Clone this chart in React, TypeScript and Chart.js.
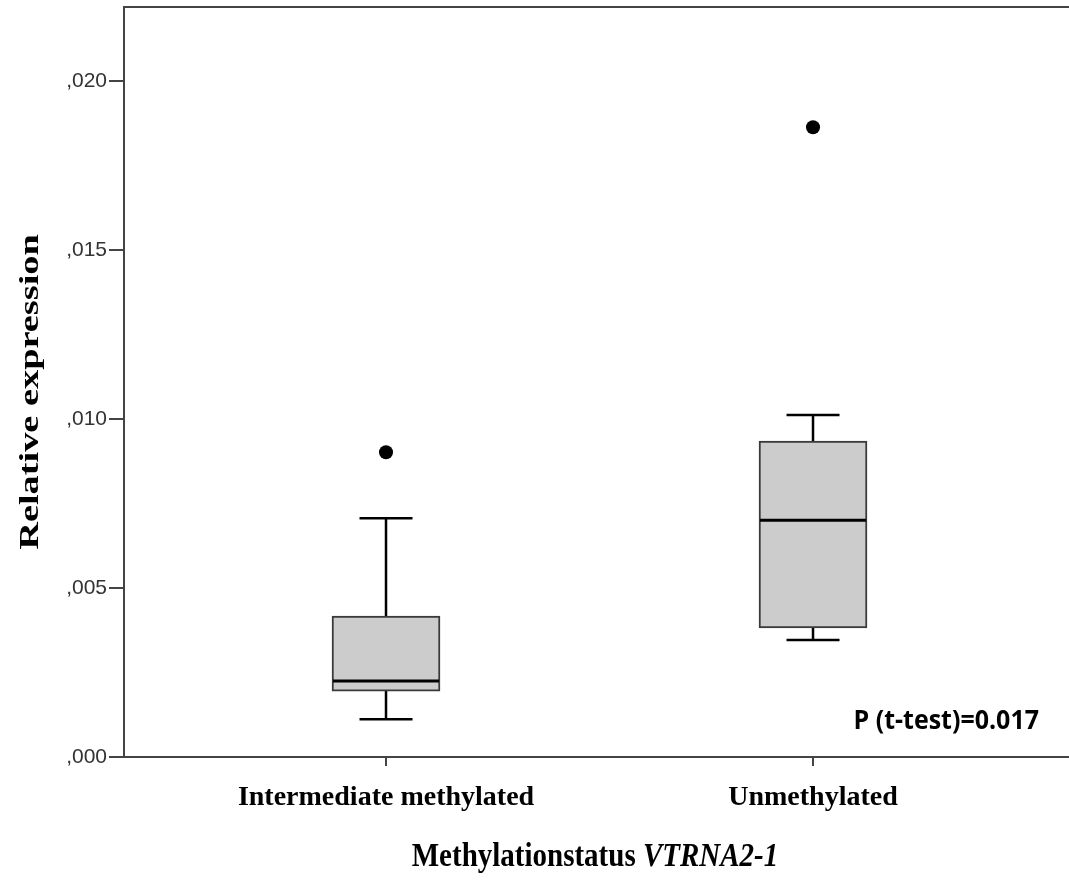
import React, { useEffect, useRef } from 'react';
import { Chart, registerables } from 'chart.js';

Chart.register(...registerables);

// ---- data ----
const categories = ['Intermediate methylated', 'Unmethylated'];
const q1Values = [0.00195, 0.00382];
const q3Values = [0.00417, 0.00935];
const medianValues = [0.00225, 0.00701];
const whiskerLow = [0.00112, 0.00346];
const whiskerHigh = [0.00707, 0.01012];
const outlierValues = [0.00902, 0.01864];
const yTickValues = [0, 0.005, 0.01, 0.015, 0.02];
const yAxisTitle = 'Relative expression';
const xAxisTitleMain = 'Methylationstatus ';
const xAxisTitleItalic = 'VTRNA2-1';
const pValueText = 'P (t-test)=0.017';

const SERIF = '"Liberation Serif", "Times New Roman", serif';
const SANS = '"Liberation Sans", Arial, sans-serif';

const boxExtras = {
  id: 'boxExtras',
  beforeDatasetsDraw(chart: any) {
    const { ctx } = chart;
    const xs = chart.scales.x;
    const ys = chart.scales.y;
    ctx.save();
    ctx.strokeStyle = '#000';
    ctx.lineWidth = 2.5;
    for (let i = 0; i < categories.length; i++) {
      const x = xs.getPixelForValue(i);
      const capHalf = 26.5;
      const yHi = ys.getPixelForValue(whiskerHigh[i]);
      const yQ3 = ys.getPixelForValue(q3Values[i]);
      const yQ1 = ys.getPixelForValue(q1Values[i]);
      const yLo = ys.getPixelForValue(whiskerLow[i]);
      ctx.beginPath();
      ctx.moveTo(x, yHi);
      ctx.lineTo(x, yQ3);
      ctx.moveTo(x, yQ1);
      ctx.lineTo(x, yLo);
      ctx.moveTo(x - capHalf, yHi);
      ctx.lineTo(x + capHalf, yHi);
      ctx.moveTo(x - capHalf, yLo);
      ctx.lineTo(x + capHalf, yLo);
      ctx.stroke();
    }
    ctx.restore();
  },
  afterDatasetsDraw(chart: any) {
    const { ctx } = chart;
    const xs = chart.scales.x;
    const ys = chart.scales.y;
    ctx.save();
    ctx.strokeStyle = '#000';
    ctx.lineWidth = 3;
    for (let i = 0; i < categories.length; i++) {
      const x = xs.getPixelForValue(i);
      const y = ys.getPixelForValue(medianValues[i]);
      ctx.beginPath();
      ctx.moveTo(x - 53, y);
      ctx.lineTo(x + 53, y);
      ctx.stroke();
    }
    ctx.restore();
  },
  afterDraw(chart: any) {
    const { ctx, chartArea } = chart;
    ctx.save();
    // top frame line
    ctx.strokeStyle = '#444';
    ctx.lineWidth = 2;
    ctx.beginPath();
    ctx.moveTo(chartArea.left - 1, chartArea.top);
    ctx.lineTo(chart.width, chartArea.top);
    ctx.stroke();

    ctx.fillStyle = '#000';

    // y axis title (rotated, stretched along its length)
    ctx.save();
    ctx.font = `bold 27px ${SERIF}`;
    ctx.textAlign = 'center';
    ctx.textBaseline = 'middle';
    ctx.translate(31, 392);
    ctx.rotate(-Math.PI / 2);
    ctx.scale(1.42, 1);
    ctx.fillText(yAxisTitle, 0, 0);
    ctx.restore();

    // x axis title (mixed style)
    ctx.save();
    const fontA = `bold 29px ${SERIF}`;
    const fontB = `italic bold 29px ${SERIF}`;
    ctx.font = fontA;
    const wA = ctx.measureText(xAxisTitleMain).width;
    ctx.font = fontB;
    const wB = ctx.measureText(xAxisTitleItalic).width;
    const cx = 595;
    ctx.translate(cx - (wA + wB) / 2, 866);
    ctx.scale(1, 1.15);
    ctx.textAlign = 'left';
    ctx.textBaseline = 'alphabetic';
    ctx.font = fontA;
    ctx.fillText(xAxisTitleMain, 0, 0);
    ctx.font = fontB;
    ctx.fillText(xAxisTitleItalic, wA, 0);
    ctx.restore();

    // p-value annotation
    ctx.save();
    ctx.font = `bold 25px "Open Sans", ${SANS}`;
    ctx.textAlign = 'right';
    ctx.textBaseline = 'middle';
    ctx.translate(1039, 722);
    ctx.scale(1, 1.05);
    ctx.fillText(pValueText, 0, 0);
    ctx.restore();
    ctx.restore();
  },
};

export default function App() {
  const canvasRef = useRef<HTMLCanvasElement | null>(null);

  useEffect(() => {
    document.body.style.margin = '0';
    const canvas = canvasRef.current;
    if (!canvas) return;
    const chart = new Chart(canvas, {
      type: 'bar',
      data: {
        datasets: [
          {
            type: 'bar',
            label: 'box',
            data: categories.map((_, i) => ({ x: i, y: [q1Values[i], q3Values[i]] })) as any,
            backgroundColor: '#cccccc',
            borderColor: '#3a3a3a',
            borderWidth: 2,
            borderSkipped: false,
            barThickness: 108,
          } as any,
          {
            type: 'scatter',
            label: 'outliers',
            data: outlierValues.map((v, i) => ({ x: i, y: v })),
            backgroundColor: '#000',
            borderColor: '#000',
            borderWidth: 0,
            pointRadius: 7,
            showLine: false,
          } as any,
        ],
      },
      options: {
        animation: false,
        responsive: false,
        devicePixelRatio: 1,
        layout: { autoPadding: false, padding: { left: 0, right: 0, top: 7, bottom: 0 } },
        plugins: {
          legend: { display: false },
          tooltip: { enabled: false },
          title: { display: false },
        },
        scales: {
          x: {
            type: 'linear',
            offset: false,
            min: -0.6136,
            max: 1.5995,
            afterBuildTicks: (scale: any) => {
              scale.ticks = categories.map((_, i) => ({ value: i }));
            },
            afterFit: (scale: any) => {
              scale.height = 124;
              scale.paddingLeft = 0;
              scale.paddingRight = 0;
            },
            grid: {
              offset: false,
              drawOnChartArea: false,
              drawTicks: true,
              tickLength: 9,
              color: '#444',
              lineWidth: 2,
            },
            border: { display: true, color: '#444', width: 2 },
            ticks: {
              autoSkip: false,
              maxRotation: 0,
              padding: 15,
              color: '#000',
              font: { family: SERIF, size: 28, weight: 'bold' },
              callback: (v: any) => categories[Math.round(Number(v))] ?? '',
            },
          },
          y: {
            type: 'linear',
            min: 0,
            max: 0.0222,
            afterBuildTicks: (scale: any) => {
              scale.ticks = yTickValues.map((v) => ({ value: v }));
            },
            afterFit: (scale: any) => {
              scale.width = 124;
              scale.paddingTop = 0;
              scale.paddingBottom = 0;
            },
            grid: {
              drawOnChartArea: false,
              drawTicks: true,
              tickLength: 15,
              color: '#444',
              lineWidth: 2,
            },
            border: { display: true, color: '#444', width: 2 },
            ticks: {
              padding: 2,
              color: '#333',
              font: { family: SANS, size: 21 },
              callback: (v: any) => ',' + Number(v).toFixed(3).split('.')[1],
            },
          },
        },
      },
      plugins: [boxExtras],
    } as any);
    return () => chart.destroy();
  }, []);

  return (
    <div style={{ width: 1069, height: 881 }}>
      <canvas ref={canvasRef} width={1069} height={881} style={{ display: 'block' }} />
    </div>
  );
}
